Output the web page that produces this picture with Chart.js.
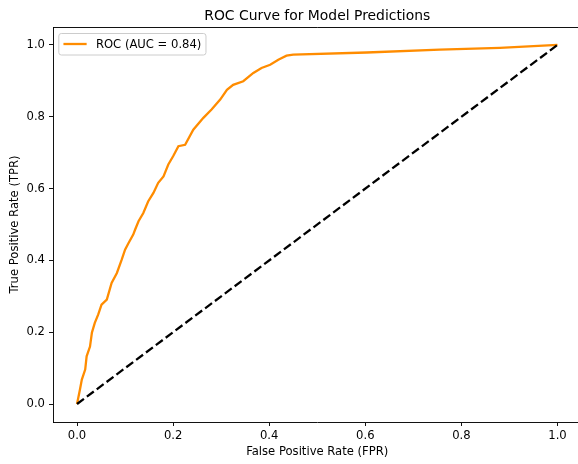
<!DOCTYPE html>
<html>
<head>
<meta charset="utf-8">
<script src="https://cdn.jsdelivr.net/npm/chart.js@4.4.1/dist/chart.umd.min.js"></script>
<style>
  html, body { margin: 0; padding: 0; overflow: hidden; background: #fff; }
  #wrap { position: absolute; left: 0; top: 0; width: 584px; height: 464px; }
</style>
</head>
<body>
<div id="wrap"><canvas id="c" width="584" height="464"></canvas></div>
<script>
// ---- data ----
const fpr = [0, 0.006, 0.010, 0.017, 0.020, 0.027, 0.031, 0.037, 0.044, 0.051, 0.062, 0.072, 0.083, 0.093, 0.100, 0.107, 0.117, 0.121, 0.128, 0.138, 0.148, 0.159, 0.169, 0.180, 0.190, 0.200, 0.211, 0.225, 0.242, 0.263, 0.280, 0.298, 0.312, 0.325, 0.346, 0.367, 0.384, 0.402, 0.419, 0.436, 0.450, 0.603, 0.755, 0.880, 1.0];
const tpr = [0, 0.040, 0.068, 0.096, 0.133, 0.160, 0.199, 0.226, 0.249, 0.277, 0.291, 0.337, 0.365, 0.402, 0.430, 0.448, 0.472, 0.486, 0.509, 0.532, 0.564, 0.588, 0.616, 0.634, 0.667, 0.690, 0.718, 0.722, 0.764, 0.797, 0.820, 0.848, 0.875, 0.889, 0.899, 0.922, 0.936, 0.945, 0.959, 0.970, 0.973, 0.979, 0.987, 0.992, 1.0];
const chanceX = [0, 1];
const chanceY = [0, 1];
const xTicks = [0, 0.2, 0.4, 0.6, 0.8, 1.0];
const xTickLabels = ['0.0', '0.2', '0.4', '0.6', '0.8', '1.0'];
const yTicks = [0, 0.2, 0.4, 0.6, 0.8, 1.0];
const yTickLabels = ['0.0', '0.2', '0.4', '0.6', '0.8', '1.0'];
const rocLabel = 'ROC (AUC = 0.84)';
const chartTitle = 'ROC Curve for Model Predictions';
const xTitle = 'False Positive Rate (FPR)';
const yTitle = 'True Positive Rate (TPR)';

const FONT = 'DejaVu Sans';
const FS = 11.6;     // 10pt
const TFS = 13.9;    // 12pt
const ORANGE = '#ff8c00';

const rocPoints = fpr.map((x, i) => ({ x: x, y: tpr[i] }));
const chancePoints = chanceX.map((x, i) => ({ x: x, y: chanceY[i] }));

const decorations = {
  id: 'decorations',
  afterDraw(chart) {
    const ctx = chart.ctx;
    const a = chart.chartArea;
    ctx.save();
    // top & right spines
    ctx.strokeStyle = '#000';
    ctx.lineWidth = 0.93;
    ctx.beginPath();
    ctx.moveTo(a.left, Math.round(a.top) + 0.5);
    ctx.lineTo(a.right, Math.round(a.top) + 0.5);
    ctx.moveTo(Math.round(a.right) + 0.5, a.top);
    ctx.lineTo(Math.round(a.right) + 0.5, a.bottom);
    ctx.stroke();
    // title
    ctx.fillStyle = '#000';
    ctx.font = TFS + 'px "' + FONT + '"';
    ctx.textAlign = 'center';
    ctx.textBaseline = 'middle';
    ctx.fillText(chartTitle, (a.left + a.right) / 2, 16);
    // legend
    ctx.font = FS + 'px "' + FONT + '"';
    const tw = ctx.measureText(rocLabel).width;
    const pad = 0.4 * FS, hl = 2 * FS, htp = 0.8 * FS;
    const bx = a.left + 5.8, by = a.top + 6.5;
    const bw = pad + hl + htp + tw + pad, bh = 21.5, r = 2.5;
    ctx.beginPath();
    ctx.moveTo(bx + r, by);
    ctx.lineTo(bx + bw - r, by);
    ctx.quadraticCurveTo(bx + bw, by, bx + bw, by + r);
    ctx.lineTo(bx + bw, by + bh - r);
    ctx.quadraticCurveTo(bx + bw, by + bh, bx + bw - r, by + bh);
    ctx.lineTo(bx + r, by + bh);
    ctx.quadraticCurveTo(bx, by + bh, bx, by + bh - r);
    ctx.lineTo(bx, by + r);
    ctx.quadraticCurveTo(bx, by, bx + r, by);
    ctx.closePath();
    ctx.fillStyle = 'rgba(255,255,255,0.8)';
    ctx.fill();
    ctx.strokeStyle = '#cccccc';
    ctx.lineWidth = 1;
    ctx.stroke();
    ctx.strokeStyle = ORANGE;
    ctx.lineWidth = 2.3;
    ctx.beginPath();
    ctx.moveTo(bx + pad, by + 10.5);
    ctx.lineTo(bx + pad + hl, by + 10.5);
    ctx.stroke();
    ctx.fillStyle = '#000';
    ctx.textAlign = 'left';
    ctx.textBaseline = 'middle';
    ctx.fillText(rocLabel, bx + pad + hl + htp, by + 11);
    ctx.restore();
  }
};

new Chart(document.getElementById('c'), {
  type: 'line',
  data: {
    datasets: [
      {
        label: 'chance',
        data: chancePoints,
        borderColor: '#000',
        borderWidth: 2.3,
        borderDash: [8.6, 3.7],
        pointRadius: 0,
        tension: 0,
        fill: false
      },
      {
        label: rocLabel,
        data: rocPoints,
        borderColor: ORANGE,
        borderWidth: 2.3,
        pointRadius: 0,
        tension: 0,
        fill: false
      }
    ]
  },
  options: {
    responsive: false,
    animation: false,
    layout: { padding: { top: 27, left: 0, right: 2.5, bottom: 0 } },
    plugins: {
      legend: { display: false },
      title: { display: false },
      tooltip: { enabled: false }
    },
    scales: {
      x: {
        type: 'linear',
        min: -0.05,
        max: 1.05,
        afterBuildTicks: s => { s.ticks = xTicks.map(v => ({ value: v })); },
        afterFit: s => { s.height = 42; },
        ticks: {
          font: { family: FONT, size: FS },
          color: '#000',
          padding: 3,
          maxRotation: 0,
          callback: v => xTickLabels[xTicks.indexOf(v)]
        },
        grid: { drawOnChartArea: false, drawTicks: true, tickLength: 4, color: '#000', lineWidth: 0.93 },
        border: { display: true, color: '#000', width: 0.93 },
        title: { display: true, text: xTitle, color: '#000', font: { family: FONT, size: FS }, padding: { top: 0, bottom: 5 } }
      },
      y: {
        type: 'linear',
        min: -0.05,
        max: 1.05,
        afterBuildTicks: s => { s.ticks = yTicks.map(v => ({ value: v })); },
        afterFit: s => { s.width = 53; },
        ticks: {
          font: { family: FONT, size: FS },
          color: '#000',
          padding: 4,
          callback: v => yTickLabels[yTicks.indexOf(v)]
        },
        grid: { drawOnChartArea: false, drawTicks: true, tickLength: 4, color: '#000', lineWidth: 0.93 },
        border: { display: true, color: '#000', width: 0.93 },
        title: { display: true, text: yTitle, color: '#000', font: { family: FONT, size: FS }, padding: { top: 8, bottom: 0 } }
      }
    }
  },
  plugins: [decorations]
});
</script>
</body>
</html>
